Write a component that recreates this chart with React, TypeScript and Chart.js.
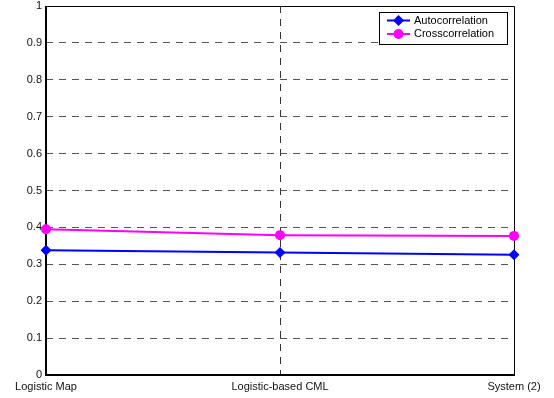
import React, { useEffect, useRef } from "react";
import { Chart, registerables } from "chart.js";

Chart.register(...registerables);

const categories = ["Logistic Map", "Logistic-based CML", "System (2)"];
const autocorrelation = [0.338, 0.332, 0.326];
const crosscorrelation = [0.395, 0.379, 0.377];
const seriesNames = ["Autocorrelation", "Crosscorrelation"];
const yTicks = [0, 0.1, 0.2, 0.3, 0.4, 0.5, 0.6, 0.7, 0.8, 0.9, 1];

const FONT = "Arial, 'Liberation Sans', sans-serif";

const framePlugin = {
  id: "frame",
  beforeDatasetsDraw(chart: any) {
    const { ctx, chartArea: a } = chart;
    ctx.save();
    ctx.strokeStyle = "#000";
    ctx.lineWidth = 1;
    ctx.beginPath();
    ctx.moveTo(a.left, a.top + 0.5);
    ctx.lineTo(a.right + 0.5, a.top + 0.5);
    ctx.lineTo(a.right + 0.5, a.bottom);
    ctx.stroke();
    ctx.lineWidth = 2;
    ctx.beginPath();
    ctx.moveTo(a.left, a.top);
    ctx.lineTo(a.left, a.bottom);
    ctx.lineTo(a.right + 1, a.bottom);
    ctx.stroke();
    ctx.restore();
  },
};

const legendPlugin = {
  id: "boxLegend",
  afterDraw(chart: any) {
    const { ctx, chartArea: a } = chart;
    const x0 = a.right - 135;
    const y0 = a.top + 6;
    const w = 128;
    const h = 32;
    ctx.save();
    ctx.fillStyle = "#fff";
    ctx.fillRect(x0, y0, w, h);
    ctx.strokeStyle = "#000";
    ctx.lineWidth = 1;
    ctx.strokeRect(x0 + 0.5, y0 + 0.5, w, h);
    ctx.font = `11px ${FONT}`;
    ctx.textBaseline = "middle";
    ctx.textAlign = "left";
    chart.data.datasets.forEach((ds: any, i: number) => {
      const cy = y0 + 8.5 + i * 13.5;
      ctx.strokeStyle = ds.borderColor;
      ctx.lineWidth = 2;
      ctx.beginPath();
      ctx.moveTo(x0 + 8, cy);
      ctx.lineTo(x0 + 31, cy);
      ctx.stroke();
      ctx.fillStyle = ds.borderColor;
      const cx = x0 + 19.5;
      ctx.beginPath();
      if (ds.pointStyle === "rectRot") {
        ctx.moveTo(cx, cy - 5.5);
        ctx.lineTo(cx + 5.5, cy);
        ctx.lineTo(cx, cy + 5.5);
        ctx.lineTo(cx - 5.5, cy);
        ctx.closePath();
      } else {
        ctx.arc(cx, cy, 5, 0, Math.PI * 2);
      }
      ctx.fill();
      ctx.fillStyle = "#000";
      ctx.fillText(ds.label, x0 + 35, cy);
    });
    ctx.restore();
  },
};

export default function App() {
  const ref = useRef<HTMLCanvasElement>(null);
  useEffect(() => {
    document.body.style.margin = "0";
    const chart = new Chart(ref.current!, {
      type: "line",
      data: {
        labels: categories,
        datasets: [
          {
            label: seriesNames[0],
            data: autocorrelation,
            borderColor: "#0000ff",
            backgroundColor: "#0000ff",
            borderWidth: 2,
            pointStyle: "rectRot",
            pointRadius: 5.5,
            pointBorderWidth: 0,
            fill: false,
          },
          {
            label: seriesNames[1],
            data: crosscorrelation,
            borderColor: "#ff00ff",
            backgroundColor: "#ff00ff",
            borderWidth: 2,
            pointStyle: "circle",
            pointRadius: 5,
            pointBorderWidth: 0,
            fill: false,
          },
        ],
      },
      options: {
        responsive: false,
        animation: false,
        layout: { padding: { top: 6, right: 40, left: 0, bottom: 0 } },
        plugins: { legend: { display: false }, tooltip: { enabled: false } },
        scales: {
          x: {
            type: "category",
            offset: false,
            grid: {
              drawTicks: false,
              color: (c: any) => (c.index === 1 ? "#333" : "rgba(0,0,0,0)"),
              lineWidth: 1,
            },
            border: { display: false, dash: [7, 6] },
            ticks: {
              color: "#111",
              font: { family: FONT, size: 11 },
              padding: 5,
              maxRotation: 0,
              autoSkip: false,
            },
            afterFit: (s: any) => {
              s.height = 23;
              s.paddingLeft = 0;
              s.paddingRight = 0;
            },
          },
          y: {
            min: 0,
            max: 1,
            afterBuildTicks: (s: any) => {
              s.ticks = yTicks.map((v) => ({ value: v }));
            },
            grid: {
              drawTicks: false,
              color: (c: any) =>
                c.tick && (c.tick.value === 0 || c.tick.value === 1) ? "rgba(0,0,0,0)" : "#555",
              lineWidth: 1,
            },
            border: { display: false, dash: [7, 6] },
            ticks: {
              color: "#111",
              font: { family: FONT, size: 11 },
              padding: 4,
              callback: (v: any) => String(Number(Number(v).toFixed(1))),
            },
            afterFit: (s: any) => {
              s.width = 46;
              s.paddingTop = 0;
              s.paddingBottom = 0;
            },
          },
        },
      },
      plugins: [framePlugin, legendPlugin],
    });
    return () => chart.destroy();
  }, []);
  return (
    <div style={{ width: 554, height: 398, background: "#fff" }}>
      <canvas ref={ref} width={554} height={398} style={{ display: "block" }} />
    </div>
  );
}
